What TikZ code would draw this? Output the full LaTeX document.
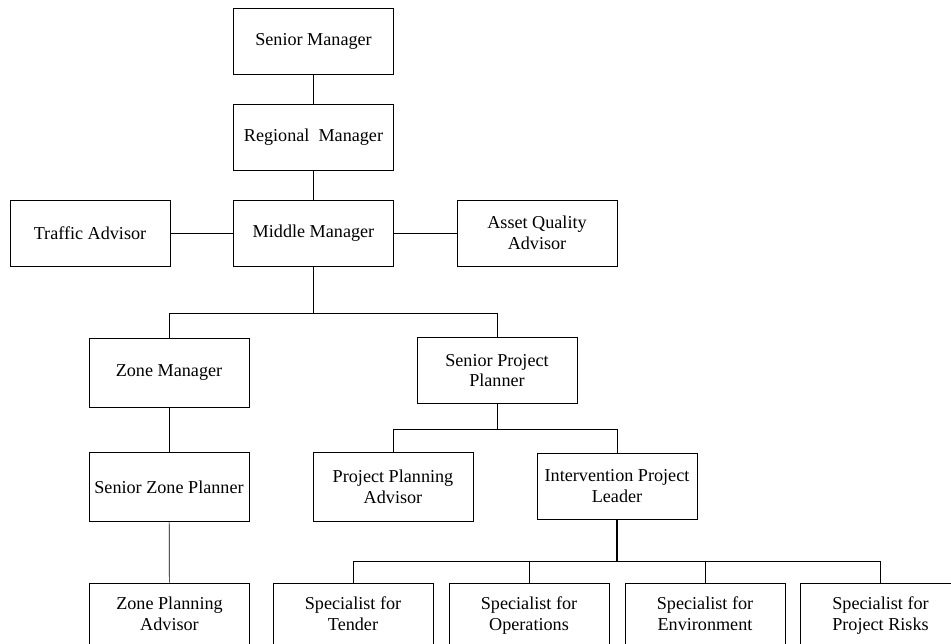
\documentclass[tikz,border=0pt]{standalone}
\usepackage{fontspec}
\setmainfont{Liberation Serif}
\usepackage{tikz}

\tikzset{post/.style={draw,line width=0.6pt,minimum width=4.8cm,minimum height=1.98cm,inner sep=0pt,align=center,font=\fontsize{15.5}{17.5}\selectfont}}

\begin{document}
\begin{tikzpicture}[x=1cm,y=1cm,line width=0.6pt]
\clip (0,0) rectangle (28.53,19.32);
\fill[white] (0,0) rectangle (28.53,19.32);
\node[post] (sm) at (9.405,18.075) {Senior Manager};
\node[post] (rm) at (9.405,15.195) {Regional~ Manager};
\node[post] (mm) at (9.405,12.33) {Middle Manager};
\node[post] (ta) at (2.7,12.33) {Traffic Advisor};
\node[post] (aqa) at (16.11,12.33) {Asset Quality\\Advisor};
\node[post,minimum height=2.07cm] (zm) at (5.07,8.13) {Zone Manager};
\node[post] (spp) at (14.91,8.205) {Senior Project\\Planner};
\node[post,minimum height=2.07cm] (szp) at (5.07,4.71) {Senior Zone Planner};
\node[post,minimum height=2.07cm] (ppa) at (11.79,4.71) {Project Planning\\Advisor};
\node[post] (ipl) at (18.51,4.74) {Intervention Project\\Leader};
\node[post] (zpa) at (5.085,0.84) {\strut Zone Planning\\\strut Advisor};
\coordinate (b1) at (9.405,9.93);
\coordinate (b2) at (14.91,6.45);
\coordinate (b3) at (18.51,2.49);
\draw (sm) -- (rm);
\draw (rm) -- (mm);
\draw (ta) -- (mm);
\draw (mm) -- (aqa);
\draw (mm) -- (b1) -| (zm.north);
\draw (b1) -| (spp.north);
\draw (zm) -- (szp);
\draw (szp) -- (zpa);
\draw (spp) -- (b2) -| (ppa.north);
\draw (b2) -| (ipl.north);
\draw[line width=1.1pt] (ipl) -- (b3);
\foreach \nm/\xx/\txt in {ten/10.59/Tender,ops/15.87/Operations,env/21.15/Environment,risk/26.415/Project Risks} {
  \node[post] (\nm) at (\xx,0.84) {\strut Specialist for\\\strut\txt};
  \draw (b3) -| (\nm.north);
}
\end{tikzpicture}
\end{document}
